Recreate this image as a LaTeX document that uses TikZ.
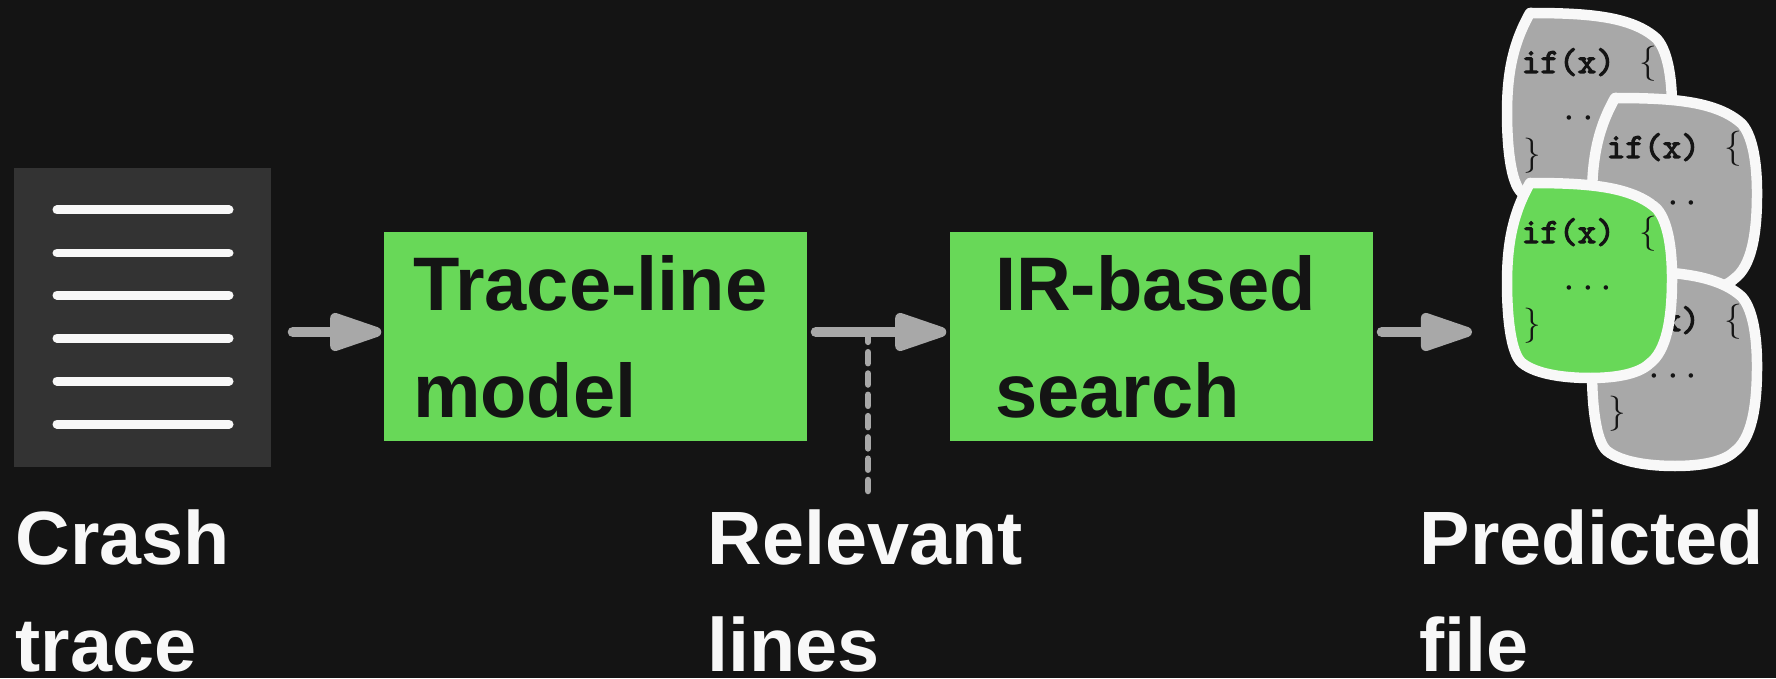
\documentclass[tikz,border=0pt]{standalone}
\usepackage{fontspec}
\setmainfont{Liberation Sans}
\newfontfamily\codefont[FakeBold=3]{Latin Modern Mono}
\usetikzlibrary{arrows.meta}

\definecolor{pagedark}{HTML}{141414}
\definecolor{tracegray}{HTML}{333333}
\definecolor{modelgreen}{HTML}{68D858}
\definecolor{flowgray}{HTML}{A8A8A8}
\definecolor{chalk}{HTML}{F8F8F8}

\tikzset{
  stage/.style={fill=modelgreen, text=pagedark, minimum width=4.23cm, minimum height=2.09cm,
    inner xsep=0pt, align=left, font=\fontsize{21.6}{30.4}\selectfont\bfseries},
  caption/.style={anchor=north west, inner sep=0pt, text=chalk, align=left,
    font=\fontsize{21.5}{30.4}\selectfont\bfseries},
  flow/.style={flowgray, line width=0.1cm, line cap=round,
    -{Triangle[round,length=6.3mm,width=3.9mm,line width=0.1cm]}},
  codefile/.pic={
    \path[line width=0.105cm, draw=chalk, line join=round, pic actions]
      (0.23,0) .. controls (0.8,0) and (1.25,-0.03) .. (1.5,-0.26)
      .. controls (1.62,-0.40) and (1.65,-0.7) .. (1.65,-0.95)
      .. controls (1.65,-1.35) and (1.6,-1.68) .. (1.42,-1.81)
      .. controls (1.3,-1.92) and (1.05,-1.95) .. (0.83,-1.95)
      .. controls (0.6,-1.95) and (0.3,-1.92) .. (0.15,-1.80)
      .. controls (0.03,-1.70) and (0,-1.3) .. (0,-1.0)
      .. controls (0,-0.6) and (0.06,-0.3) .. (0.23,0) -- cycle;
    \node[anchor=base west, inner sep=0pt, text=pagedark] (-cond) at (0.14,-0.60)
      {\fontsize{10.1}{11}\selectfont\codefont if(x)};
    \node[inner sep=0pt, text=pagedark] (-open) at (1.41,-0.51) {\fontsize{10}{11}\selectfont$\{$};
    \node[inner sep=0pt, text=pagedark] (-dots) at (0.81,-1.06) {\fontsize{12.8}{14}\selectfont$\cdots$};
    \node[inner sep=0pt, text=pagedark] (-close) at (0.25,-1.43) {\fontsize{10}{11}\selectfont$\}$};
  }
}

\begin{document}
\begin{tikzpicture}

\useasboundingbox[fill=pagedark] (0,0) rectangle (17.76,6.78);

% Crash trace
\node[fill=tracegray, minimum width=2.57cm, minimum height=2.99cm, inner sep=0pt] (crash) at (1.425,3.605) {};
\foreach \y in {4.68,4.25,3.83,3.40,2.97,2.54}
  \draw[chalk, line width=0.09cm, line cap=round] (0.57,\y) -- (2.29,\y);

% Two stages
\node[stage, text width=3.65cm] (model) at (5.955,3.415) {Trace-line\\model};
\node[stage, text width=3.33cm] (search) at (11.615,3.415) {IR-based\\search};

% Predicted files
\pic[fill=flowgray] (backleft) at (15.07,6.65) {codefile};
\pic[fill=flowgray] (backright) at (15.92,5.80) {codefile};
\pic[fill=flowgray] (frontright) at (15.92,4.07) {codefile};
\pic[fill=modelgreen] (predicted) at (15.07,4.95) {codefile};

% Arrows
\coordinate (flowline) at (0,3.46);
\coordinate (filesin) at (14.72,3.46);
\coordinate (tap) at (8.68,1.87);
\draw[flow, shorten <=0.21cm, shorten >=0.02cm] (crash.east |- flowline) -- (model.west |- flowline);
\draw[flow, shorten <=0.08cm, shorten >=0.03cm] (model.east |- flowline) -- (search.west |- flowline);
\draw[flow, shorten <=0.08cm] (search.east |- flowline) -- (filesin);

% Relevant lines tap
\draw[flowgray, line width=0.065cm, line cap=round, dash pattern=on 0.11cm off 0.103cm] (tap) -- (tap |- flowline);

% Captions
\node[caption] (crashtext) at (0.15,1.69) {Crash\\trace};
\node[caption] (linestext) at (7.07,1.69) {Relevant\\lines};
\node[caption] (filetext) at (14.19,1.69) {Predicted\\file};

\end{tikzpicture}
\end{document}
